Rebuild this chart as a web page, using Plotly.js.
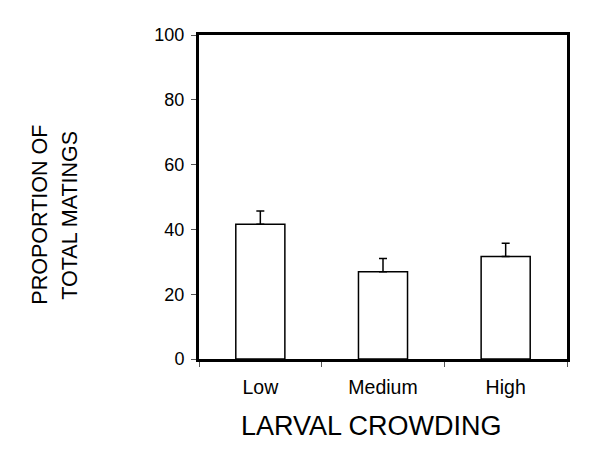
<!DOCTYPE html>
<html><head><meta charset="utf-8">
<script src="https://cdn.plot.ly/plotly-3.0.1.min.js"></script>
<style>html,body{margin:0;padding:0;background:#fff}</style>
</head><body>
<div id="chart" style="width:600px;height:472px"></div>
<script>
const categories = ["Low", "Medium", "High"];
const values = [41.6, 26.9, 31.6];
const errorsUp = [4.1, 4.1, 4.1];
const yTicks = [0, 20, 40, 60, 80, 100];
const xTitle = "LARVAL CROWDING";
const yTitleLines = ["PROPORTION OF", "TOTAL MATINGS"];

const trace = {
  type: "bar",
  x: categories,
  y: values,
  width: 0.4,
  marker: {color: "#ffffff", line: {color: "#000000", width: 1.5}},
  error_y: {type: "data", symmetric: false, array: errorsUp, arrayminus: [0,0,0], color: "#000000", thickness: 1.5, width: 4}
};
const font = "Liberation Sans, Arial, sans-serif";
const layout = {
  width: 600, height: 472,
  margin: {l: 199, r: 33, t: 35, b: 113},
  paper_bgcolor: "#ffffff", plot_bgcolor: "#ffffff",
  font: {family: font, color: "#000000", size: 16},
  showlegend: false,
  xaxis: {
    type: "category", range: [-0.5, 2.5], tickson: "boundaries",
    ticks: "outside", ticklen: 5, tickcolor: "#555", tickwidth: 1,
    showline: true, linecolor: "#000", linewidth: 3, mirror: true, showgrid: false,
    tickfont: {size: 19.5}, ticklabelstandoff: 9
  },
  yaxis: {
    range: [0, 100], tickvals: yTicks, ticks: "outside", ticklen: 5, tickcolor: "#555", tickwidth: 1,
    showline: true, linecolor: "#000", linewidth: 3, mirror: true, showgrid: false, zeroline: false,
    tickfont: {size: 18}, ticklabelstandoff: 3
  },
  annotations: [
    {text: xTitle, xref: "paper", yref: "paper", x: 0.469, y: -0.206, xanchor: "center", yanchor: "middle", showarrow: false, font: {size: 27}},
    {text: yTitleLines[0], xref: "paper", yref: "paper", x: -0.4307, y: 0.444, xanchor: "center", yanchor: "middle", textangle: -90, showarrow: false, font: {size: 21.5}},
    {text: yTitleLines[1], xref: "paper", yref: "paper", x: -0.349, y: 0.444, xanchor: "center", yanchor: "middle", textangle: -90, showarrow: false, font: {size: 21.5}}
  ]
};
Plotly.newPlot("chart", [trace], layout, {displayModeBar: false, staticPlot: true});
</script>
</body></html>
